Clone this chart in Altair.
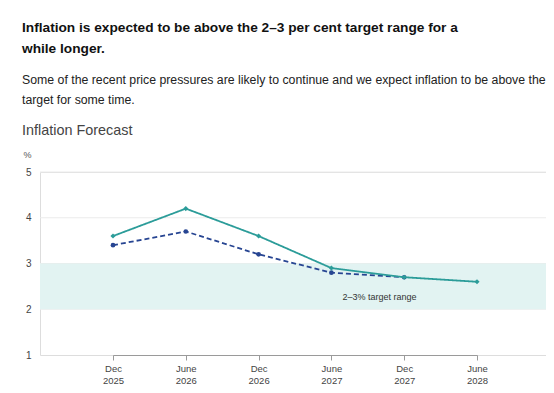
import altair as alt
import pandas as pd

periods = ["Dec 2025", "June 2026", "Dec 2026", "June 2027", "Dec 2027", "June 2028"]
forecast_current = [3.6, 4.2, 3.6, 2.9, 2.7, 2.6]
forecast_previous = [3.4, 3.7, 3.2, 2.8, 2.7, None]
series_names = ["Current forecast", "Previous forecast"]
y_ticks = [1, 2, 3, 4, 5]
grid_values = [2, 3, 4, 5]
band_low, band_high = 2, 3
band_label = "2–3% target range"
band_label_period = "June 2027"
band_label_value = 2.27

title_lines = ["Inflation is expected to be above the 2–3 per cent target range for a", "while longer."]
subtitle_lines = ["Some of the recent price pressures are likely to continue and we expect inflation to be above the",
                  "target for some time."]
chart_title = "Inflation Forecast"

rows = []
for p, v in zip(periods, forecast_current):
    rows.append({"period": p, "value": v, "series": series_names[0]})
for p, v in zip(periods, forecast_previous):
    if v is not None:
        rows.append({"period": p, "value": v, "series": series_names[1]})
df = pd.DataFrame(rows)

W, H = 506, 183
FONT = "Liberation Sans"

xscale = alt.Scale(type="point", domain=periods, range=[73, 437], padding=0)
yscale = alt.Scale(domain=[1, 5])

xenc = alt.X("period:N", scale=xscale, title=None,
             axis=alt.Axis(labelExpr="split(datum.label, ' ')", labelAngle=0,
                           domainColor="#9a9a9a", tickColor="#9a9a9a", tickSize=5,
                           labelPadding=3, labelFontSize=9.5, labelLineHeight=12,
                           labelColor="#444", labelFont=FONT, grid=False))
yenc = alt.Y("value:Q", scale=yscale,
             axis=alt.Axis(values=y_ticks, title="%", titleAngle=0, titleX=-13, titleY=-18,
                           titleAlign="center", titleBaseline="middle", titleFontSize=9,
                           titleFontWeight="normal", titleColor="#555", titleFont=FONT,
                           labelFontSize=10, labelColor="#444", labelFont=FONT, labelPadding=9,
                           domain=False, ticks=False, grid=False))

grid = alt.Chart(pd.DataFrame({"g": grid_values})).mark_rule(color="#ebebeb", strokeWidth=1).encode(
    y=alt.Y("g:Q", scale=yscale)
)
band = alt.Chart(pd.DataFrame({"lo": [band_low], "hi": [band_high]})).mark_rect(color="#e2f3f2").encode(
    y=alt.Y("hi:Q", scale=yscale), y2="lo:Q"
)
band_text = alt.Chart(pd.DataFrame({"period": [band_label_period], "value": [band_label_value], "t": [band_label]})).mark_text(
    fontSize=9, color="#333", font=FONT, align="left", baseline="middle", dx=11
).encode(x=alt.X("period:N", scale=xscale), y=alt.Y("value:Q", scale=yscale), text="t:N")

color = alt.Color("series:N", scale=alt.Scale(domain=series_names, range=["#2b9c99", "#274592"]), legend=None)
dash = alt.StrokeDash("series:N", scale=alt.Scale(domain=series_names, range=[[1, 0], [5, 3]]), legend=None)
shape = alt.Shape("series:N", scale=alt.Scale(domain=series_names, range=["diamond", "circle"]), legend=None)

prev_df = df[df.series == series_names[1]]
cur_df = df[df.series == series_names[0]]

lines_prev = alt.Chart(prev_df).mark_line(strokeWidth=1.8).encode(x=xenc, y=yenc, color=color, strokeDash=dash)
lines_cur = alt.Chart(cur_df).mark_line(strokeWidth=1.8).encode(x=xenc, y=yenc, color=color, strokeDash=dash)
points_prev = alt.Chart(prev_df).mark_point(filled=True, size=22, opacity=1).encode(
    x=alt.X("period:N", scale=xscale), y=alt.Y("value:Q", scale=yscale), color=color, shape=shape)
points_cur = alt.Chart(cur_df).mark_point(filled=True, size=26, opacity=1).encode(
    x=alt.X("period:N", scale=xscale), y=alt.Y("value:Q", scale=yscale), color=color, shape=shape)

texts = pd.DataFrame({
    "t": title_lines + subtitle_lines + [chart_title],
    "kind": ["title", "title", "sub", "sub", "head"],
    "yy": [-144, -123, -92, -72, -41],
})

def text_layer(kind, size, weight, col):
    d = texts[texts.kind == kind]
    return alt.Chart(d).mark_text(align="left", baseline="middle", fontSize=size, fontWeight=weight,
                                  color=col, font=FONT).encode(
        x=alt.value(-18), y=alt.Y("yy:Q", scale=None), text="t:N")

t1 = text_layer("title", 13.7, "bold", "#111")
t2 = text_layer("sub", 12.3, "normal", "#222")
t3 = text_layer("head", 14.4, "normal", "#444")

chart = alt.layer(grid, band, lines_prev, points_prev, lines_cur, points_cur, band_text, t1, t2, t3).properties(
    width=W, height=H,
    autosize=alt.AutoSizeParams(type="none"),
    padding={"left": 32, "top": 164, "right": 0, "bottom": 30},
).configure_view(stroke=None).configure(background="white")

chart.save("out.html", embed_options={"renderer": "svg", "actions": False})
